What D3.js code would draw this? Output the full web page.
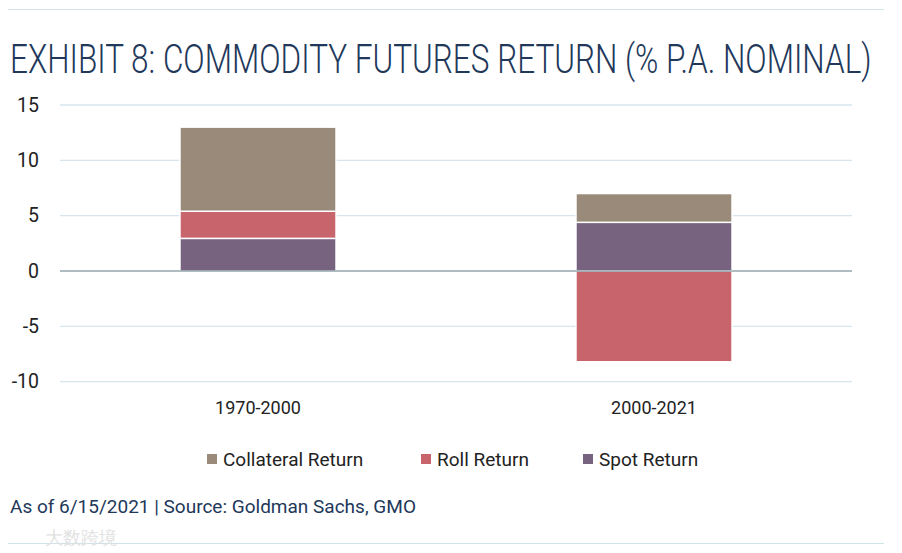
<!DOCTYPE html>
<html lang="en">
<head>
<meta charset="UTF-8">
<title>Commodity Futures Return</title>
<script src="https://cdn.jsdelivr.net/npm/d3@7"></script>
<style>
  body { margin: 0; background: #fff; }
  text { font-family: Roboto, "Noto Sans", sans-serif; }
</style>
</head>
<body>
<script>
  // data
  var periods = ["1970-2000", "2000-2021"];
  var spotReturn = [2.95, 4.4];
  var rollReturn = [2.45, -8.2];
  var collateralReturn = [7.6, 2.6];
  var yTicks = [-10, -5, 0, 5, 10, 15];

  var seriesNames = ["Spot Return", "Roll Return", "Collateral Return"];
  var legendOrder = ["Collateral Return", "Roll Return", "Spot Return"];
  var colors = {"Spot Return": "#77627f", "Roll Return": "#c8646b", "Collateral Return": "#9a8a79"};

  var width = 902, height = 553;
  var rows = periods.map(function(p, i) {
    return {period: p, "Spot Return": spotReturn[i], "Roll Return": rollReturn[i], "Collateral Return": collateralReturn[i]};
  });

  var svg = d3.select("body").append("svg")
      .attr("width", width)
      .attr("height", height);

  // top and bottom rules
  svg.append("line").attr("x1", 8).attr("x2", 884).attr("y1", 9.5).attr("y2", 9.5)
      .attr("stroke", "#d3e3ea").attr("stroke-width", 1);
  svg.append("line").attr("x1", 8).attr("x2", 884).attr("y1", 543.5).attr("y2", 543.5)
      .attr("stroke", "#cfe2e8").attr("stroke-width", 1);

  // title: condensed look by squeezing horizontally
  var titleG = svg.append("g");
  var title = titleG.append("text")
      .text("EXHIBIT 8: COMMODITY FUTURES RETURN (% P.A. NOMINAL)")
      .attr("x", 0).attr("y", 0)
      .attr("font-size", 40).attr("font-weight", 300)
      .attr("fill", "#22385a");
  var natural = title.node().getComputedTextLength();
  titleG.attr("transform", "translate(10,73) scale(" + (862 / natural) + ",1)");

  var x = d3.scaleBand().domain(periods).range([60, 852])
      .paddingInner(0.606).paddingOuter(0.303);
  var y = d3.scaleLinear().domain([-10, 15]).range([381.7, 105]);

  // gridlines
  svg.append("g").selectAll("line").data(yTicks.filter(function(t) { return t !== 0; })).enter()
    .append("line")
      .attr("x1", 60).attr("x2", 852)
      .attr("y1", function(d) { return y(d); }).attr("y2", function(d) { return y(d); })
      .attr("stroke", "#d6e5ee").attr("stroke-width", 1.3);

  var yAxis = svg.append("g")
      .attr("transform", "translate(39,0)")
      .call(d3.axisLeft(y).tickValues(yTicks).tickSize(0).tickPadding(0)
        .tickFormat(function(d) { return String(d); }));
  yAxis.select(".domain").remove();
  yAxis.selectAll("text").attr("font-size", 19.5).attr("fill", "#222").attr("font-family", "Roboto");

  var stack = d3.stack().keys(seriesNames).offset(d3.stackOffsetDiverging);
  var layers = stack(rows);

  svg.append("g").selectAll("g").data(layers).enter()
    .append("g")
      .attr("fill", function(d) { return colors[d.key]; })
    .selectAll("rect").data(function(d) { return d; }).enter()
    .append("rect")
      .attr("x", function(d) { return x(d.data.period); })
      .attr("width", x.bandwidth())
      .attr("y", function(d) { return y(d[1]); })
      .attr("height", function(d) { return y(d[0]) - y(d[1]); })
      .attr("stroke", "#fff").attr("stroke-width", 1.5);

  // zero line
  svg.append("line")
      .attr("x1", 60).attr("x2", 852).attr("y1", y(0)).attr("y2", y(0))
      .attr("stroke", "#607a86").attr("stroke-width", 1.2);

  var xAxis = svg.append("g")
      .attr("transform", "translate(0,401)")
      .call(d3.axisBottom(x).tickSize(0).tickPadding(0));
  xAxis.select(".domain").remove();
  xAxis.selectAll("text").attr("font-size", 18).attr("fill", "#222").attr("font-family", "Roboto");

  // legend
  var legendX = [207, 421, 583];
  var legend = svg.append("g").selectAll("g").data(legendOrder).enter()
    .append("g")
      .attr("transform", function(d, i) { return "translate(" + legendX[i] + ",459)"; });
  legend.append("rect")
      .attr("x", 0).attr("y", -5).attr("width", 10).attr("height", 10)
      .attr("fill", function(d) { return colors[d]; });
  legend.append("text")
      .text(function(d) { return d; })
      .attr("x", 16).attr("y", 7)
      .attr("font-size", 19).attr("fill", "#222");

  svg.append("text")
      .text("As of 6/15/2021 | Source: Goldman Sachs, GMO")
      .attr("x", 10).attr("y", 513)
      .attr("font-size", 19).attr("fill", "#22385a");

  // watermark
  svg.append("text")
      .text("大数跨境")
      .attr("x", 45).attr("y", 544)
      .attr("font-size", 18).attr("font-family", "Noto Sans CJK SC")
      .attr("fill", "#e2e2e2");
</script>
</body>
</html>
